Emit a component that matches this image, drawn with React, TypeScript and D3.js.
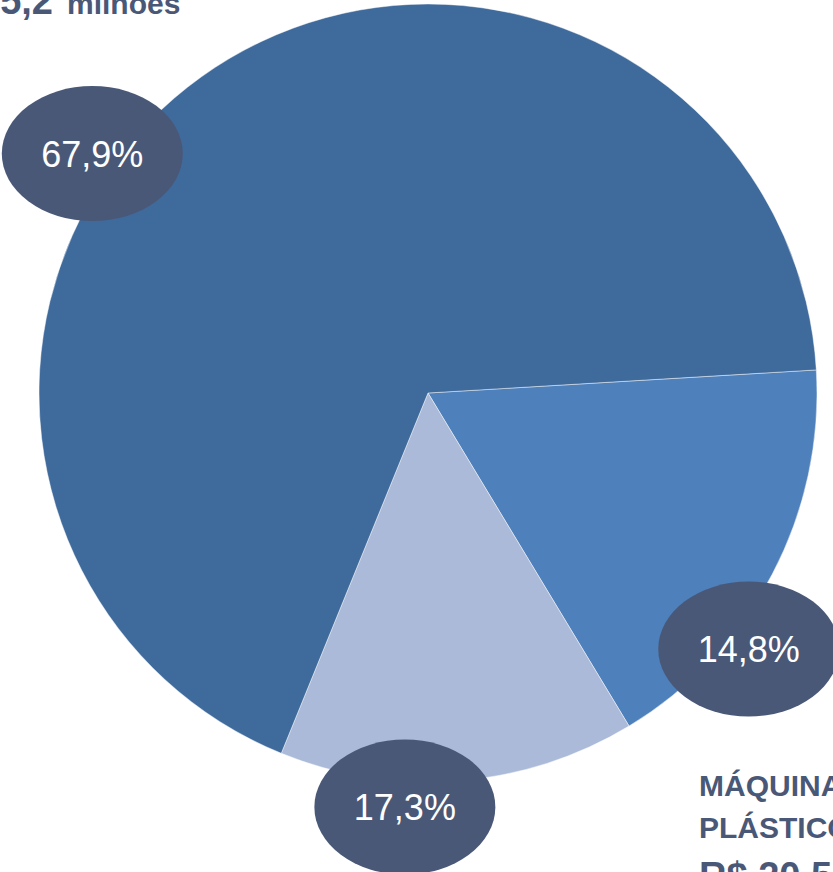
import React from "react";
import * as d3 from "d3";

// slices, clockwise from the start angle
const sliceNames = ["medio", "claro", "maior"];
const sliceValues = [17.3, 14.8, 67.9];
const sliceColors = ["#4e80bc", "#abbad8", "#3f6a9c"];

// percentage badges (text + polar position in degrees, radius factor)
const badgeTexts = ["67,9%", "14,8%", "17,3%"];
const badgeAngles = [305.5, 128.6, 183.2];
const badgeRadius = [1.06, 1.055, 1.066];

const topLabel = ["R$ 5,2", "milhões"];
const bottomLabel = ["MÁQUINAS", "PLÁSTICOS", "R$ 20,5 milhões"];

const App = () => {
  const width = 833;
  const height = 872;
  const cx = 428;
  const cy = 393;
  const radius = 389;
  const startDeg = 86.6;

  const toRad = (d: number) => (d * Math.PI) / 180;

  const pie = d3
    .pie<number>()
    .sort(null)
    .value((d) => d)
    .startAngle(toRad(startDeg))
    .endAngle(toRad(startDeg + 360));
  const arcs = pie(sliceValues);

  const arcGen = d3.arc<d3.PieArcDatum<number>>().innerRadius(0).outerRadius(radius);

  const badges = badgeTexts.map((t, i) => {
    const a = toRad(badgeAngles[i]);
    const r = radius * badgeRadius[i];
    return { text: t, x: Math.sin(a) * r, y: -Math.cos(a) * r };
  });

  const textColor = "#4a5878";
  const font = "'Liberation Sans', Arial, sans-serif";

  return (
    <div style={{ position: "absolute", left: 0, top: 0 }}>
      <svg width={width} height={height} style={{ display: "block" }}>
        <g transform={`translate(${cx},${cy})`}>
          {arcs.map((a, i) => (
            <path
              key={sliceNames[i]}
              d={arcGen(a) || ""}
              fill={sliceColors[i]}
              stroke="#ffffff"
              strokeOpacity={0.45}
              strokeWidth={1}
            />
          ))}
          {badges.map((b) => (
            <g key={b.text} transform={`translate(${b.x},${b.y})`}>
              <ellipse rx={90.5} ry={67.5} fill="#4a5878" />
              <text
                y={13}
                textAnchor="middle"
                fill="#ffffff"
                fontFamily={font}
                fontSize={36}
              >
                {b.text}
              </text>
            </g>
          ))}
        </g>
        <text
          x={53}
          y={14}
          textAnchor="end"
          fill={textColor}
          fontFamily={font}
          fontWeight="bold"
          fontSize={38}
        >
          {topLabel[0]}
        </text>
        <text x={67} y={14} fill={textColor} fontFamily={font} fontWeight="bold" fontSize={30}>
          {topLabel[1]}
        </text>
        <text x={699} y={796} fill={textColor} fontFamily={font} fontWeight="bold" fontSize={30}>
          {bottomLabel[0]}
        </text>
        <text x={699} y={838} fill={textColor} fontFamily={font} fontWeight="bold" fontSize={30}>
          {bottomLabel[1]}
        </text>
        <text x={699} y={889} fill={textColor} fontFamily={font} fontWeight="bold" fontSize={38}>
          {bottomLabel[2]}
        </text>
      </svg>
    </div>
  );
};

export default App;
